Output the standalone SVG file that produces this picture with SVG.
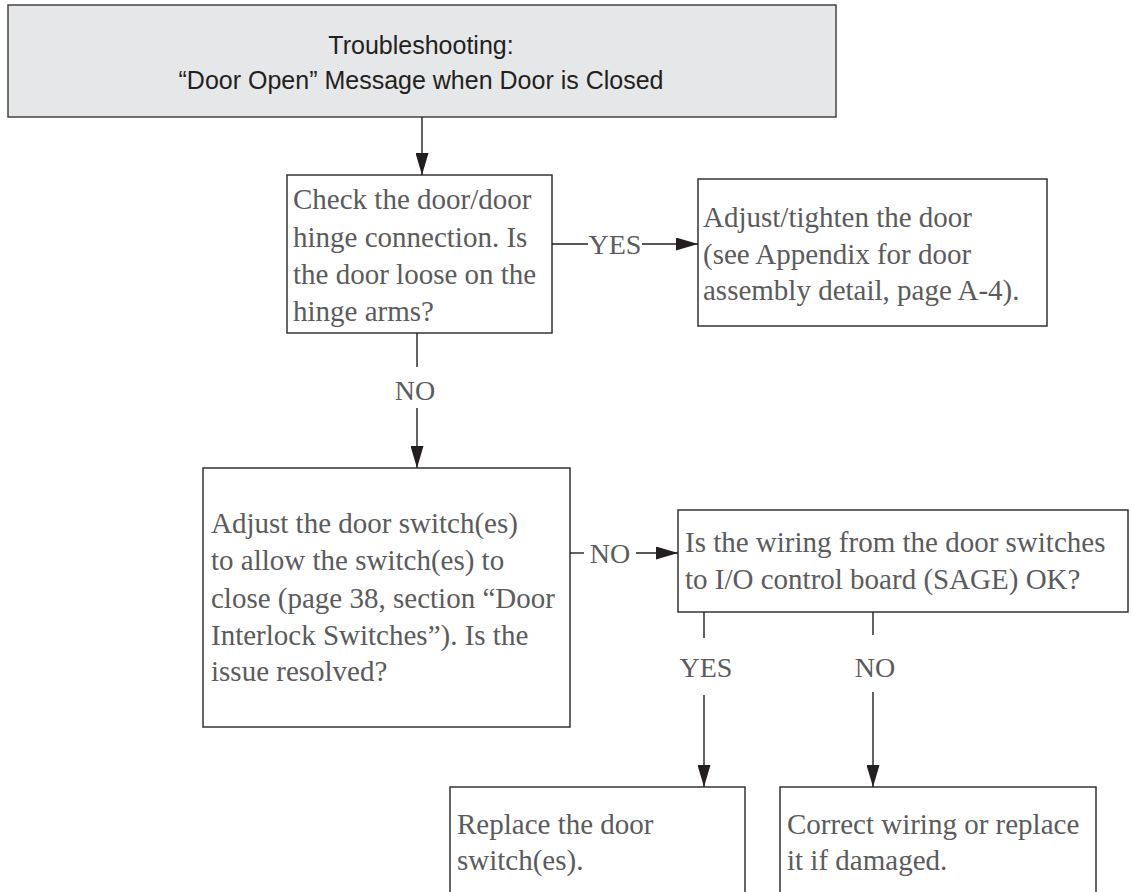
<svg xmlns="http://www.w3.org/2000/svg" width="1132" height="892" viewBox="0 0 1132 892">
<style>
.box{fill:#ffffff;stroke:#333333;stroke-width:1.5}
.title{fill:#e6e7e8;stroke:#444444;stroke-width:1.5}
.t{font-family:"Liberation Serif","Times New Roman",serif;font-size:29px;fill:#5b5b5d}
.h{font-family:"Liberation Sans",Arial,sans-serif;font-size:25px;fill:#231f20;text-anchor:middle}
.lbl{font-family:"Liberation Serif","Times New Roman",serif;font-size:28px;fill:#5b5b5d;text-anchor:middle}
.c{stroke:#231f20;stroke-width:1.4;fill:none}
</style>
<defs>
<marker id="ah" markerUnits="userSpaceOnUse" viewBox="0 0 22 13" markerWidth="22" markerHeight="13" refX="22" refY="6.5" orient="auto">
<path d="M0,0 L22,6.5 L0,13 z" fill="#231f20"/>
</marker>
</defs>
<g id="title">
<rect class="title" x="8" y="5" width="828" height="112"/>
<text class="h" x="421" y="54">Troubleshooting:</text>
<text class="h" x="421" y="89">“Door Open” Message when Door is Closed</text>
</g>
<g id="check-hinge">
<rect class="box" x="287" y="175" width="265" height="158"/>
<text class="t" x="293" y="209">Check the door/door</text>
<text class="t" x="293" y="247">hinge connection. Is</text>
<text class="t" x="293" y="284">the door loose on the</text>
<text class="t" x="293" y="321">hinge arms?</text>
</g>
<g id="adjust-door">
<rect class="box" x="698" y="179" width="349" height="147"/>
<text class="t" x="703" y="227">Adjust/tighten the door</text>
<text class="t" x="703" y="264">(see Appendix for door</text>
<text class="t" x="703" y="300">assembly detail, page A-4).</text>
</g>
<g id="adjust-switch">
<rect class="box" x="203" y="468" width="367" height="259"/>
<text class="t" x="211" y="533">Adjust the door switch(es)</text>
<text class="t" x="211" y="570">to allow the switch(es) to</text>
<text class="t" x="211" y="608">close (page 38, section “Door</text>
<text class="t" x="211" y="645">Interlock Switches”). Is the</text>
<text class="t" x="211" y="681">issue resolved?</text>
</g>
<g id="wiring">
<rect class="box" x="678" y="510" width="450" height="102"/>
<text class="t" x="685" y="552">Is the wiring from the door switches</text>
<text class="t" x="685" y="589">to I/O control board (SAGE) OK?</text>
</g>
<g id="replace-switch">
<rect class="box" x="450" y="787" width="295" height="120"/>
<text class="t" x="457" y="834">Replace the door</text>
<text class="t" x="457" y="870">switch(es).</text>
</g>
<g id="correct-wiring">
<rect class="box" x="780" y="787" width="316" height="120"/>
<text class="t" x="787" y="834">Correct wiring or replace</text>
<text class="t" x="787" y="870">it if damaged.</text>
</g>
<g id="connectors">
<line class="c" x1="422" y1="117" x2="422" y2="175" marker-end="url(#ah)"/>
<line class="c" x1="552" y1="244" x2="588" y2="244"/>
<line class="c" x1="642" y1="244" x2="698" y2="244" marker-end="url(#ah)"/>
<text class="lbl" x="615" y="254">YES</text>
<line class="c" x1="417" y1="333" x2="417" y2="367"/>
<line class="c" x1="417" y1="408" x2="417" y2="468" marker-end="url(#ah)"/>
<text class="lbl" x="415" y="400">NO</text>
<line class="c" x1="570" y1="553" x2="584" y2="553"/>
<line class="c" x1="636" y1="553" x2="678" y2="553" marker-end="url(#ah)"/>
<text class="lbl" x="610" y="563">NO</text>
<line class="c" x1="704" y1="612" x2="704" y2="638"/>
<line class="c" x1="704" y1="695" x2="704" y2="787" marker-end="url(#ah)"/>
<text class="lbl" x="706" y="677">YES</text>
<line class="c" x1="873" y1="612" x2="873" y2="635"/>
<line class="c" x1="873" y1="692" x2="873" y2="787" marker-end="url(#ah)"/>
<text class="lbl" x="875" y="677">NO</text>
</g>
</svg>
